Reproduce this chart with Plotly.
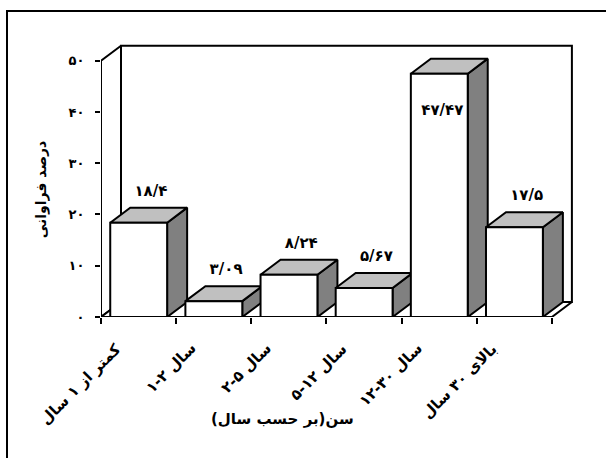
import plotly.graph_objects as go

# ---------------- data ----------------
categories = ["کمتر از ۱ سال", "۱-۲ سال", "۲-۵ سال", "۵-۱۲ سال", "۱۲-۳۰ سال", "بالای ۳۰ سال"]
values = [18.4, 3.09, 8.24, 5.67, 47.47, 17.5]
value_labels = ["۱۸/۴", "۳/۰۹", "۸/۲۴", "۵/۶۷", "۴۷/۴۷", "۱۷/۵"]
y_tick_values = [0, 10, 20, 30, 40, 50]
y_tick_labels = ["۰", "۱۰", "۲۰", "۳۰", "۴۰", "۵۰"]
x_title = "سن(بر حسب سال)\u200f"
y_title = "درصد فراوانی"

# ---------------- geometry (page pixel calibration) ----------------
W, H = 606, 458
PLOT_LEFT, PLOT_RIGHT, PLOT_TOP, PLOT_BOTTOM = 101, 582, 40, 316.7   # page px
L = PLOT_LEFT
R = W - PLOT_RIGHT
T = PLOT_TOP
B = H - PLOT_BOTTOM
PX_U = 75.15          # pixels per category band
PX_V = 5.12           # pixels per percent
plot_w = W - L - R
plot_h = H - T - B
XMAX = plot_w / PX_U
YMAX = plot_h / PX_V
DX = 20 / PX_U        # depth offset (x)
DY = 15 / PX_V        # depth offset (y)
WALL_TOP = 50
N = len(categories)
BAR_OFF = 0.123
BAR_W = 0.757


def paper_x(px):
    return (px - L) / plot_w


def paper_y(py):
    return (PLOT_BOTTOM - py) / plot_h


FONT = "DejaVu Sans, Liberation Sans, Arial, sans-serif"
LW = 2

fig = go.Figure()


def poly(xs, ys, fill):
    fig.add_trace(go.Scatter(
        x=xs + [xs[0]], y=ys + [ys[0]], mode="lines", fill="toself",
        fillcolor=fill, line=dict(color="black", width=LW),
        hoverinfo="skip", showlegend=False))


# back wall, side wall, floor
poly([DX, N + DX, N + DX, DX], [DY, DY, WALL_TOP + DY, WALL_TOP + DY], "white")
poly([0, DX, DX, 0], [0, DY, WALL_TOP + DY, WALL_TOP], "white")
poly([0, N, N + DX, DX], [0, 0, DY, DY], "white")

# bars
for i, v in enumerate(values):
    l = i + BAR_OFF
    r = l + BAR_W
    poly([r, r + DX, r + DX, r], [0, DY, v + DY, v], "#808080")          # side
    poly([l, r, r + DX, l + DX], [v, v, v + DY, v + DY], "#c0c0c0")      # top
    poly([l, r, r, l], [0, 0, v, v], "white")                            # front

# value labels
lx, ly = [], []
for i, v in enumerate(values):
    center = i + BAR_OFF + BAR_W / 2
    if v + 6.0 > WALL_TOP - 2:
        lx.append(center + 0.04)
        ly.append(v - 7.3)
    else:
        lx.append(center + DX / 2 + 0.03)
        ly.append(v + DY + 3.1)
fig.add_trace(go.Scatter(
    x=lx, y=ly, mode="text", text=value_labels, textposition="middle center",
    textfont=dict(family=FONT, size=15, color="black", weight="bold"),
    hoverinfo="skip", showlegend=False))

# category labels (rotated)
for i, c in enumerate(categories):
    fig.add_annotation(
        x=i + 0.5, y=0, xref="x", yref="y", text=c, showarrow=False,
        textangle=-45, xanchor="right", yanchor="top", xshift=-11, yshift=-20,
        font=dict(family=FONT, size=15, color="black", weight="bold"))

# axis titles
fig.add_annotation(
    x=paper_x(282), y=paper_y(419), xref="paper", yref="paper",
    text=x_title, showarrow=False, xanchor="center", yanchor="middle",
    font=dict(family=FONT, size=15, color="black", weight="bold"))
fig.add_annotation(
    x=paper_x(41), y=paper_y(190), xref="paper", yref="paper",
    text=y_title, showarrow=False, textangle=-90, xanchor="center", yanchor="middle",
    font=dict(family=FONT, size=14, color="black", weight="bold"))

# outer frame: only the left and top edges fall inside the picture
fx0, fx1 = paper_x(7), paper_x(640)
fy0, fy1 = paper_y(500), paper_y(11)
fig.add_shape(type="path", xref="paper", yref="paper",
              path=f"M {fx0},{fy0} L {fx0},{fy1} L {fx1},{fy1}",
              line=dict(color="black", width=2), layer="below")

fig.update_layout(
    width=W, height=H, margin=dict(l=L, r=R, t=T, b=B, pad=0),
    paper_bgcolor="white", plot_bgcolor="white", showlegend=False,
    xaxis=dict(range=[0, XMAX], tickvals=list(range(N + 1)), showticklabels=False,
               ticks="outside", ticklen=6, tickwidth=2, tickcolor="black",
               showgrid=False, zeroline=False, showline=False, fixedrange=True),
    yaxis=dict(range=[0, YMAX], tickvals=y_tick_values, ticktext=y_tick_labels,
               ticks="outside", ticklen=5, tickwidth=2, tickcolor="black",
               ticklabelstandoff=8,
               tickfont=dict(family=FONT, size=13, color="black", weight="bold"),
               showgrid=False, zeroline=False, showline=False, fixedrange=True),
)

fig.write_html(
    "out.html",
    config={"displayModeBar": False},
    post_script="document.body.style.margin='0';document.body.style.overflow='hidden';",
)
